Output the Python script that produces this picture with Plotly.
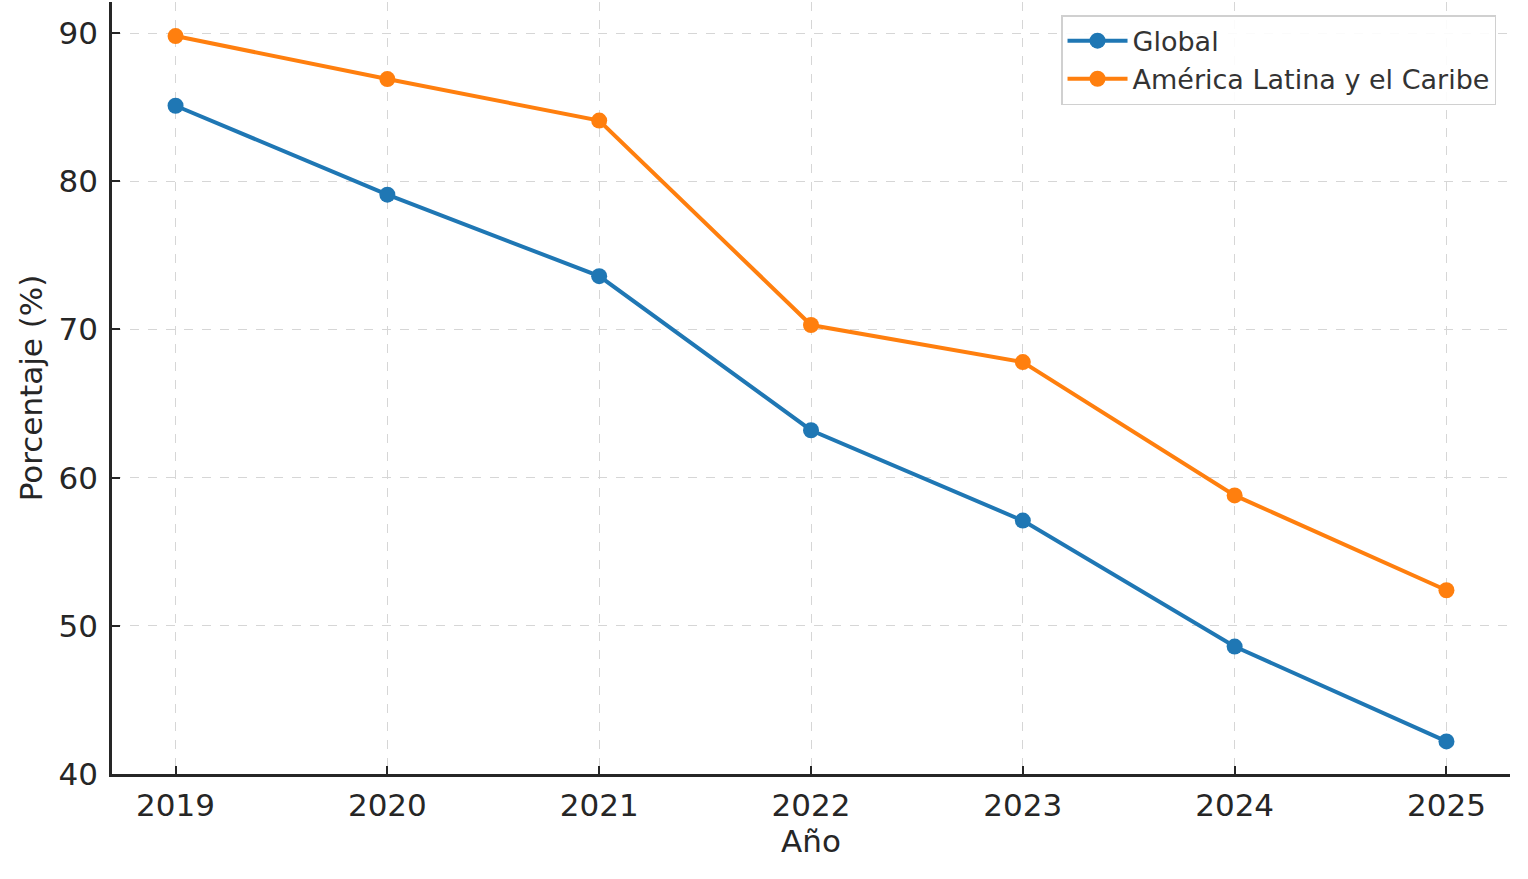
import plotly.graph_objects as go

years = [2019, 2020, 2021, 2022, 2023, 2024, 2025]
global_vals = [85.1, 79.1, 73.6, 63.2, 57.1, 48.6, 42.2]
latam_vals = [89.8, 86.9, 84.1, 70.3, 67.8, 58.8, 52.4]
y_ticks = [40, 50, 60, 70, 80, 90]

fig = go.Figure()
fig.add_trace(go.Scatter(x=years, y=global_vals, mode="lines+markers", name="Global",
                         line=dict(color="#1f77b4", width=4),
                         marker=dict(size=16, color="#1f77b4")))
fig.add_trace(go.Scatter(x=years, y=latam_vals, mode="lines+markers", name="América Latina y el Caribe",
                         line=dict(color="#ff7f0e", width=4),
                         marker=dict(size=16, color="#ff7f0e")))

axis_common = dict(
    showline=True, linecolor="#262626", linewidth=2.5,
    ticks="inside", ticklen=8, tickwidth=1.5, tickcolor="#262626",
    showgrid=True, gridcolor="#d6d6d6", griddash="dash", gridwidth=1.2,
    zeroline=False,
    tickfont=dict(size=31, color="#262626", family="DejaVu Sans"),
)

fig.update_xaxes(**axis_common, range=[2018.7, 2025.3], tickvals=years,
                 ticktext=[str(y) for y in years], ticklabelstandoff=2,
                 title=dict(text="Año", font=dict(size=31, color="#262626", family="DejaVu Sans"), standoff=8))
fig.update_yaxes(**axis_common, range=[40, 92.1], tickvals=y_ticks, ticklabelstandoff=5,
                 title=dict(text="Porcentaje (%)", font=dict(size=31, color="#262626", family="DejaVu Sans"), standoff=7))

fig.update_layout(
    width=1528, height=879,
    margin=dict(l=112, r=18, t=2, b=105),
    plot_bgcolor="white", paper_bgcolor="white",
    font=dict(family="DejaVu Sans"),
    legend=dict(x=0.99, y=0.983, xanchor="right", yanchor="top", itemwidth=60,
                bgcolor="rgba(255,255,255,0.9)", bordercolor="#d0d0d0", borderwidth=1.5,
                font=dict(size=27, color="#333333", family="DejaVu Sans")),
)

fig.write_html("out.html", config={"displayModeBar": False},
               post_script="document.body.style.margin='0';")
